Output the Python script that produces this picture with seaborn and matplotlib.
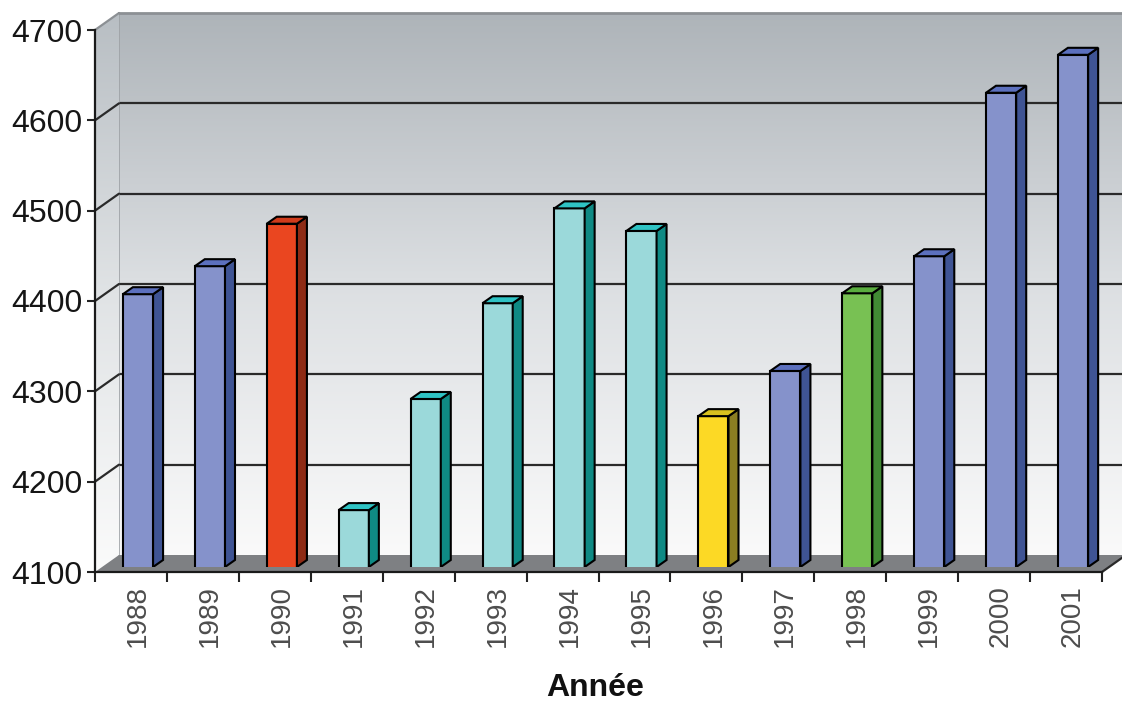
import matplotlib
matplotlib.use('Agg')
import matplotlib.pyplot as plt
from matplotlib.colors import LinearSegmentedColormap
from matplotlib.patches import Polygon
import seaborn as sns
import numpy as np

# Données
annees = ['1988', '1989', '1990', '1991', '1992', '1993', '1994',
          '1995', '1996', '1997', '1998', '1999', '2000', '2001']
valeurs = [4402, 4433, 4480, 4163, 4286, 4392, 4497,
           4472, 4267, 4317, 4403, 4444, 4625, 4667]
groupes = ['bleu', 'bleu', 'rouge', 'cyan', 'cyan', 'cyan', 'cyan',
           'cyan', 'jaune', 'bleu', 'vert', 'bleu', 'bleu', 'bleu']
graduations = [4100, 4200, 4300, 4400, 4500, 4600, 4700]

FACE = {'bleu': '#8592cb', 'rouge': '#ea4620', 'cyan': '#9bd9da',
        'jaune': '#fcd925', 'vert': '#78c153'}
COTE = {'bleu': '#3f5494', 'rouge': '#8e2b15', 'cyan': '#0f8a84',
        'jaune': '#8b7e22', 'vert': '#418b34'}
DESSUS = {'bleu': '#5c70be', 'rouge': '#cf3b1b', 'cyan': '#2fc3c4',
          'jaune': '#d8c11f', 'vert': '#5aad3f'}

sns.set_theme(style='white')
plt.rcParams['font.family'] = ['Liberation Sans', 'DejaVu Sans']

W, H = 1122, 704
L, R, B, T = 95, 1102, 132, 674   # front plane box, pixels
DX, DY = 24, 17                    # depth of the walls
BX, BY = 7, 5                      # bars are set back a little
SX, SY = 10, 7                     # depth of each bar
ymin, ymax = graduations[0], graduations[-1]
n = len(annees)

fig = plt.figure(figsize=(W / 100, H / 100), dpi=100)


def box(dx, dy):
    return [(L + dx) / W, (B + dy) / H, (R - L) / W, (T - B) / H]


grad = np.linspace(0, 1, 256).reshape(-1, 1)

# back wall with gradient and grid
ax_back = fig.add_axes(box(DX, DY), zorder=0)
fond = LinearSegmentedColormap.from_list('fond', ['#fafafa', '#dcdfe2', '#aeb4b9'])
ax_back.imshow(grad, cmap=fond, origin='lower', aspect='auto',
               extent=(-0.5, n - 0.5, ymin, ymax))
ax_back.set_xlim(-0.5, n - 0.5)
ax_back.set_ylim(ymin, ymax)
ax_back.set_xticks([])
ax_back.set_yticks(graduations[1:-1])
ax_back.tick_params(left=False, labelleft=False)
ax_back.grid(axis='y', color='#2a2a2a', lw=1.6)
for s in ['right', 'bottom']:
    ax_back.spines[s].set_visible(False)
ax_back.spines['left'].set_color('#9ea2a6')
ax_back.spines['left'].set_linewidth(1.2)
ax_back.spines['top'].set_color('#8c9094')
ax_back.spines['top'].set_linewidth(2)

# side wall and floor
ax_deco = fig.add_axes([0, 0, 1, 1], zorder=1)
ax_deco.set_facecolor('none')
cote = LinearSegmentedColormap.from_list('cote', ['#fbfbfb', '#e0e3e5', '#b8bec3'])
mur = Polygon([(L, B), (L, T), (L + DX, T + DY), (L + DX, B + DY)],
              closed=True, transform=ax_deco.transData)
im = ax_deco.imshow(grad, cmap=cote, origin='lower', aspect='auto',
                    extent=(L, L + DX, B, T + DY))
im.set_clip_path(mur)
for v in graduations[1:]:
    y = B + (v - ymin) / (ymax - ymin) * (T - B)
    col = '#2a2a2a' if v < ymax else '#8c9094'
    ax_deco.plot([L, L + DX], [y, y + DY], color=col, lw=1.6)
ax_deco.add_patch(Polygon([(L, B), (R, B), (R + DX, B + DY), (L + DX, B + DY)],
                          closed=True, fc='#7e8083', ec='none'))
ax_deco.plot([R, R + DX], [B, B + DY], color='#2a2a2a', lw=1.6)
ax_deco.set_xlim(0, W)
ax_deco.set_ylim(0, H)
ax_deco.axis('off')

# front axis: ticks and value labels
ax_front = fig.add_axes(box(0, 0), zorder=2)
ax_front.set_facecolor('none')
ax_front.set_xlim(-0.5, n - 0.5)
ax_front.set_ylim(ymin, ymax)
ax_front.set_yticks(graduations)
ax_front.set_yticklabels([str(g) for g in graduations])
ax_front.set_xticks([])
ax_front.set_xticks(np.arange(n + 1) - 0.5, minor=True)
ax_front.tick_params(axis='y', left=True, length=6, width=1.5, pad=3,
                     labelsize=23, labelcolor='#151515', color='#222222')
ax_front.tick_params(axis='x', which='minor', bottom=True, length=7, width=1.5,
                     color='#222222', direction='out')
for s in ['top', 'right']:
    ax_front.spines[s].set_visible(False)
for s in ['left', 'bottom']:
    ax_front.spines[s].set_color('#1a1a1a')
    ax_front.spines[s].set_linewidth(1.6)

# bars
ax_bars = fig.add_axes(box(BX, BY), zorder=3)
ax_bars.set_facecolor('none')
palette = {a: FACE[g] for a, g in zip(annees, groupes)}
sns.barplot(x=annees, y=valeurs, hue=annees, palette=palette, width=0.42,
            saturation=1, edgecolor='black', linewidth=1.5, legend=False, ax=ax_bars)
ax_bars.set_xlim(-0.5, n - 0.5)
ax_bars.set_ylim(ymin, ymax)

dxd = SX / ((R - L) / n)
dyd = SY / ((T - B) / (ymax - ymin))
for cont in ax_bars.containers:
    for bar in cont:
        x0, w, v = bar.get_x(), bar.get_width(), bar.get_height()
        g = groupes[int(round(x0 + w / 2))]
        x1 = x0 + w
        ax_bars.add_patch(Polygon([(x1, ymin), (x1, v), (x1 + dxd, v + dyd), (x1 + dxd, ymin + dyd)],
                                  closed=True, fc=COTE[g], ec='black', lw=1.5))
        ax_bars.add_patch(Polygon([(x0, v), (x1, v), (x1 + dxd, v + dyd), (x0 + dxd, v + dyd)],
                                  closed=True, fc=DESSUS[g], ec='black', lw=1.5))

ax_bars.set_xticks(range(n))
ax_bars.set_xticklabels(annees, rotation=90, fontsize=20, color='#4d4d4d')
ax_bars.tick_params(axis='x', bottom=False, length=0, pad=13)
ax_bars.set_yticks([])
ax_bars.set_ylabel('')
ax_bars.set_xlabel('Année', fontsize=23, fontweight='bold', color='#111111', labelpad=19)
ax_bars.xaxis.label.set_x(0.49)
for s in ax_bars.spines.values():
    s.set_visible(False)

fig.savefig('out.png', dpi=100)
plt.close(fig)
